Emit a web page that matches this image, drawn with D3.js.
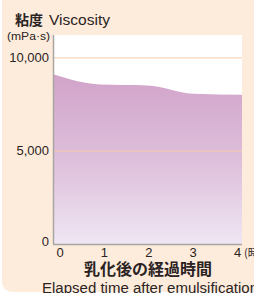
<!DOCTYPE html>
<html>
<head>
<meta charset="utf-8">
<script src="https://cdn.jsdelivr.net/npm/d3@7"></script>
<style>
  html, body { margin: 0; padding: 0; background: #fff; overflow: hidden; }
  svg { display: block; }
</style>
</head>
<body>
<div id="chart"></div>
<script>
// Data
const hours = [0, 1, 2, 3, 4];
const viscosity = [9100, 8550, 8500, 8050, 8000];
const yTicks = [0, 5000, 10000];
const gridTicks = [5000, 10000];

const width = 254, height = 293;
const plot = { left: 53, right: 242, top: 35, bottom: 244 };
const font = '"Liberation Sans", Arial, "Noto Sans CJK JP", sans-serif';
const jpFont = '"Noto Sans CJK JP", sans-serif';
const textColor = '#2b2323';

const svg = d3.select('#chart').append('svg')
    .attr('width', width)
    .attr('height', height);

// Cream panel
svg.append('rect')
    .attr('x', 2).attr('y', -12)
    .attr('width', 280).attr('height', 304)
    .attr('rx', 10)
    .attr('fill', '#fdecdb');

// Gradient for the area
const defs = svg.append('defs');
const grad = defs.append('linearGradient')
    .attr('id', 'areaGrad')
    .attr('x1', 0).attr('y1', 0).attr('x2', 0).attr('y2', 1);
grad.append('stop').attr('offset', '0%').attr('stop-color', '#d1a3c9');
grad.append('stop').attr('offset', '55%').attr('stop-color', '#dfc2dd');
grad.append('stop').attr('offset', '100%').attr('stop-color', '#efe6f3');

// Scales
const x = d3.scaleLinear().domain([0, 4]).range([plot.left, plot.right]);
const xLabel = d3.scaleLinear().domain([0, 4]).range([59.5, 237]);
const y = d3.scaleLinear().domain([0, 11200]).range([plot.bottom, plot.top]);

// White plot background
svg.append('rect')
    .attr('x', plot.left).attr('y', plot.top)
    .attr('width', plot.right - plot.left)
    .attr('height', plot.bottom - plot.top)
    .attr('fill', '#fff');

// Area
const area = d3.area()
    .x((d, i) => x(hours[i]))
    .y0(y(0))
    .y1(d => y(d))
    .curve(d3.curveMonotoneX);

svg.append('path')
    .datum(viscosity)
    .attr('d', area)
    .attr('fill', 'url(#areaGrad)');

// Grid lines
svg.append('g')
    .selectAll('line')
    .data(gridTicks)
    .join('line')
    .attr('x1', plot.left).attr('x2', plot.right)
    .attr('y1', d => y(d) + 0.5).attr('y2', d => y(d) + 0.5)
    .attr('stroke', '#f7c9a6')
    .attr('stroke-opacity', 0.75)
    .attr('stroke-width', 1.2);

// Y axis
const yAxis = svg.append('g')
    .attr('transform', `translate(${plot.left},0)`)
    .call(d3.axisLeft(y).tickValues(yTicks).tickSize(0).tickPadding(4)
        .tickFormat(d3.format(',')));
yAxis.select('.domain')
    .attr('d', `M0.5,${plot.top}V${plot.bottom}`)
    .attr('stroke', '#a9a5a3').attr('stroke-width', 1.5);
yAxis.selectAll('text')
    .attr('fill', textColor)
    .style('font-family', font)
    .style('font-size', '13px');
yAxis.selectAll('.tick').filter(d => d === 0).select('text').attr('dy', '0.1em');

// X axis
const xAxis = svg.append('g')
    .attr('transform', `translate(0,${plot.bottom})`)
    .call(d3.axisBottom(xLabel).tickValues(hours).tickSize(0).tickPadding(4)
        .tickFormat(d3.format('d')));
xAxis.select('.domain')
    .attr('d', `M${plot.left},0.5H${plot.right}`)
    .attr('stroke', '#a9a5a3').attr('stroke-width', 1.5);
xAxis.selectAll('text')
    .attr('fill', textColor)
    .style('font-family', font)
    .style('font-size', '13px');

// Unit for x (clipped by the window)
svg.append('text')
    .attr('x', 244).attr('y', 257)
    .attr('fill', textColor)
    .style('font-family', jpFont)
    .style('font-size', '11px')
    .text('(時間)');

// Titles
svg.append('text')
    .attr('x', 15).attr('y', 24.5)
    .attr('fill', textColor)
    .style('font-family', jpFont)
    .style('font-size', '14px')
    .style('font-weight', 'bold')
    .text('粘度');

svg.append('text')
    .attr('x', 49).attr('y', 24.5)
    .attr('fill', textColor)
    .style('font-family', font)
    .style('font-size', '14px')
    .attr('textLength', 61)
    .attr('lengthAdjust', 'spacingAndGlyphs')
    .text('Viscosity');

svg.append('text')
    .attr('x', 7).attr('y', 40)
    .attr('fill', textColor)
    .style('font-family', font)
    .style('font-size', '11px')
    .attr('textLength', 43)
    .attr('lengthAdjust', 'spacingAndGlyphs')
    .text('(mPa·s)');

svg.append('text')
    .attr('x', 148).attr('y', 275)
    .attr('text-anchor', 'middle')
    .attr('fill', textColor)
    .style('font-family', jpFont)
    .style('font-size', '16px')
    .style('font-weight', 'bold')
    .text('乳化後の経過時間');

svg.append('text')
    .attr('x', 42).attr('y', 293)
    .attr('fill', textColor)
    .style('font-family', font)
    .style('font-size', '14px')
    .attr('textLength', 216)
    .attr('lengthAdjust', 'spacingAndGlyphs')
    .text('Elapsed time after emulsification');
</script>
</body>
</html>
